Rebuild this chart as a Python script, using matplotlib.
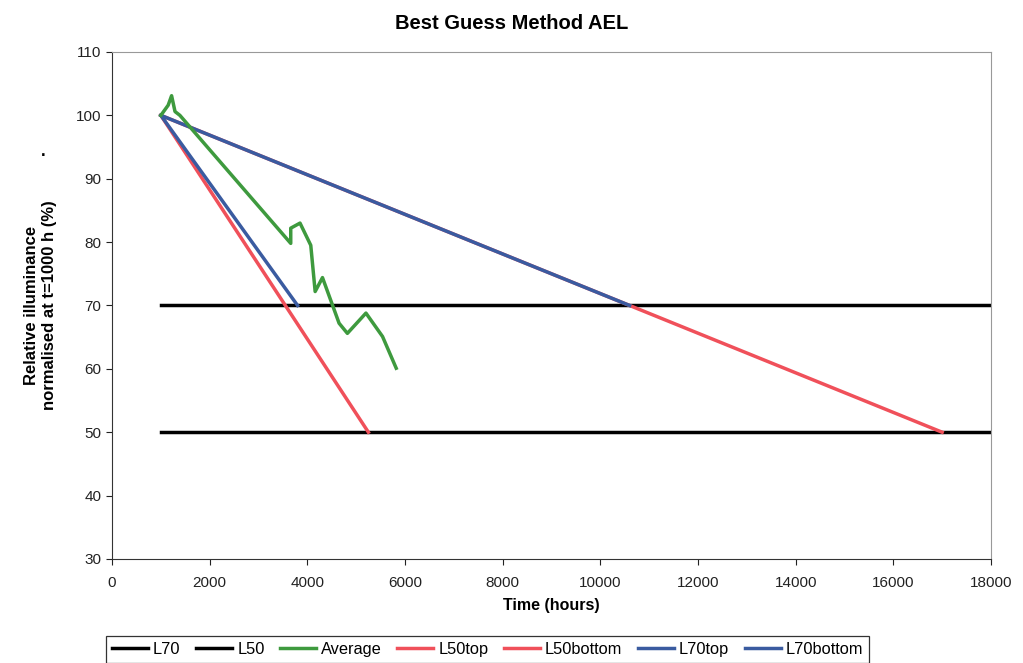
import matplotlib
matplotlib.use("Agg")
import matplotlib.pyplot as plt

plt.rcParams['font.family'] = ['Liberation Sans', 'DejaVu Sans']

# series
avg_t = [1000, 1150, 1220, 1290, 1390, 3660, 3660, 3850, 4070, 4160, 4310, 4650, 4820, 5200, 5540, 5820]
avg_y = [100, 101.6, 103.1, 100.6, 100, 79.8, 82.2, 83.0, 79.5, 72.2, 74.4, 67.2, 65.6, 68.8, 65.1, 60.1]

l70_t = [1000, 18000]
l70_y = [70, 70]
l50_t = [1000, 18000]
l50_y = [50, 50]

l50top_t = [1000, 17000]
l50top_y = [100, 50]
l50bot_t = [1000, 5250]
l50bot_y = [100, 50]
l70top_t = [1000, 10600]
l70top_y = [100, 70]
l70bot_t = [1000, 3800]
l70bot_y = [100, 70]

red = '#f0505a'
blue = '#3a5ba0'
green = '#3e9a3e'

fig = plt.figure(figsize=(10.23, 6.63), dpi=100)
ax = fig.add_axes([0.1095, 0.1569, 0.8592, 0.7647])

ax.plot(l70_t, l70_y, color='black', lw=2.5, label='L70')
ax.plot(l50_t, l50_y, color='black', lw=2.5, label='L50')
ax.plot(l50top_t, l50top_y, color=red, lw=2.5, label='L50top')
ax.plot(l50bot_t, l50bot_y, color=red, lw=2.5, label='L50bottom')
ax.plot(l70top_t, l70top_y, color=blue, lw=2.5, label='L70top')
ax.plot(l70bot_t, l70bot_y, color=blue, lw=2.5, label='L70bottom')
ax.plot(avg_t, avg_y, color=green, lw=2.5, label='Average')

ax.set_xlim(0, 18000)
ax.set_ylim(30, 110)
ax.set_xticks(range(0, 18001, 2000))
ax.set_yticks(range(30, 111, 10))
ax.tick_params(direction='out', length=4, labelsize=11, colors='#222222')
ax.tick_params(axis='x', pad=8)
for s in ['top', 'right']:
    ax.spines[s].set_color('#999999')
for s in ['left', 'bottom']:
    ax.spines[s].set_color('#333333')

ax.set_xlabel('Time (hours)', fontsize=11.5, fontweight='bold', labelpad=6)
ax.set_ylabel('Relative illuminance\nnormalised at t=1000 h (%)', fontsize=12,
              fontweight='bold', labelpad=14)
fig.text(0.5, 0.965, 'Best Guess Method AEL', ha='center', va='center',
         fontsize=14.5, fontweight='bold')
fig.text(0.042, 0.765, '.', fontsize=12, fontweight='bold', ha='center')

h, l = ax.get_legend_handles_labels()
order = ['L70', 'L50', 'Average', 'L50top', 'L50bottom', 'L70top', 'L70bottom']
hd = dict(zip(l, h))
leg = fig.legend([hd[k] for k in order], order, loc='lower left',
                 bbox_to_anchor=(0.096, -0.012), ncol=7, fontsize=11.8,
                 frameon=True, fancybox=False, edgecolor='black',
                 handlelength=2.2, handletextpad=0.3, columnspacing=0.95,
                 borderpad=0.35)
leg.get_frame().set_linewidth(0.9)

fig.savefig('out.png', dpi=100)
